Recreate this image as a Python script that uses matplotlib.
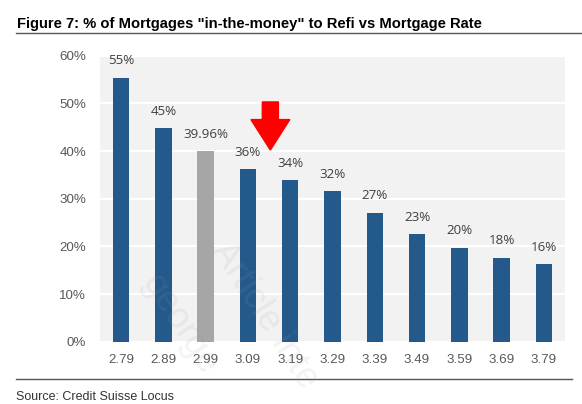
#!/usr/bin/env python

import matplotlib
matplotlib.use("Agg")
import matplotlib.pyplot as plt
from matplotlib.patches import FancyArrow
from matplotlib.lines import Line2D

# data
rates = ["2.79", "2.89", "2.99", "3.09", "3.19", "3.29", "3.39", "3.49", "3.59", "3.69", "3.79"]
pct_itm = [55.4, 44.8, 39.96, 36.2, 33.9, 31.6, 27.1, 22.6, 19.7, 17.6, 16.3]
labels = ["55%", "45%", "39.96%", "36%", "34%", "32%", "27%", "23%", "20%", "18%", "16%"]
current_idx = 2  # the gray bar

blue = "#245a8b"
gray = "#a6a6a6"

fig = plt.figure(figsize=(5.82, 4.04), dpi=100)
ax = fig.add_axes([100 / 582, 62.3 / 404, 465 / 582, 286 / 404])

x = range(len(rates))
colors = [gray if i == current_idx else blue for i in x]
ax.bar(x, pct_itm, width=0.39, color=colors, zorder=3)

for i, (v, lab) in enumerate(zip(pct_itm, labels)):
    ax.annotate(lab, (i, v), xytext=(0, 7.5), textcoords="offset points",
                ha="center", va="bottom", fontsize=9.6, color="#404040",
                family="Open Sans")

ax.set_xlim(-0.5, len(rates) - 0.5)
ax.set_ylim(0, 60)
ax.set_yticks(range(0, 61, 10))
ax.set_yticklabels([f"{t}%" for t in range(0, 61, 10)])
ax.set_xticks(list(x))
ax.set_xticklabels(rates)
ax.set_facecolor("#f2f2f2")
ax.grid(axis="y", color="white", linewidth=1.5, zorder=0)
ax.set_axisbelow(True)
for s in ax.spines.values():
    s.set_visible(False)
ax.tick_params(length=0, labelsize=9.6, labelcolor="#595959")
ax.tick_params(axis="y", pad=10)
ax.tick_params(axis="x", pad=8.5)
for t in ax.get_xticklabels() + ax.get_yticklabels():
    t.set_family("Liberation Sans")

# red arrow pointing down at the current rate
arrow = FancyArrow(3.53, 50.3, 0, -10.1, width=0.38, head_width=0.92,
                   head_length=6.4, length_includes_head=True,
                   color="red", zorder=4)
ax.add_patch(arrow)

# title, rules and source
fig.text(17 / 582, 1 - 24 / 404, 'Figure 7: % of Mortgages "in-the-money" to Refi vs Mortgage Rate',
         fontsize=10.6, fontweight="bold", family="Liberation Sans", va="center", color="black")
fig.add_artist(Line2D([16 / 582, 1.0], [1 - 33 / 404] * 2, color="#555555", linewidth=1.0))
fig.add_artist(Line2D([16 / 582, 572 / 582], [1 - 379 / 404] * 2, color="#555555", linewidth=1.0))
fig.text(16 / 582, 1 - 397 / 404, "Source: Credit Suisse Locus", fontsize=9,
         family="Liberation Sans", va="center", color="#333333")

# faint watermark
fig.text(265 / 582, 1 - 315 / 404, "Article inte", fontsize=26, rotation=-57,
         color="#999999", alpha=0.12, ha="center", va="center", family="Liberation Sans")
fig.text(180 / 582, 1 - 325 / 404, "george", fontsize=26, rotation=-57,
         color="#999999", alpha=0.12, ha="center", va="center", family="Liberation Sans")

plt.savefig("out.png", dpi=100)
